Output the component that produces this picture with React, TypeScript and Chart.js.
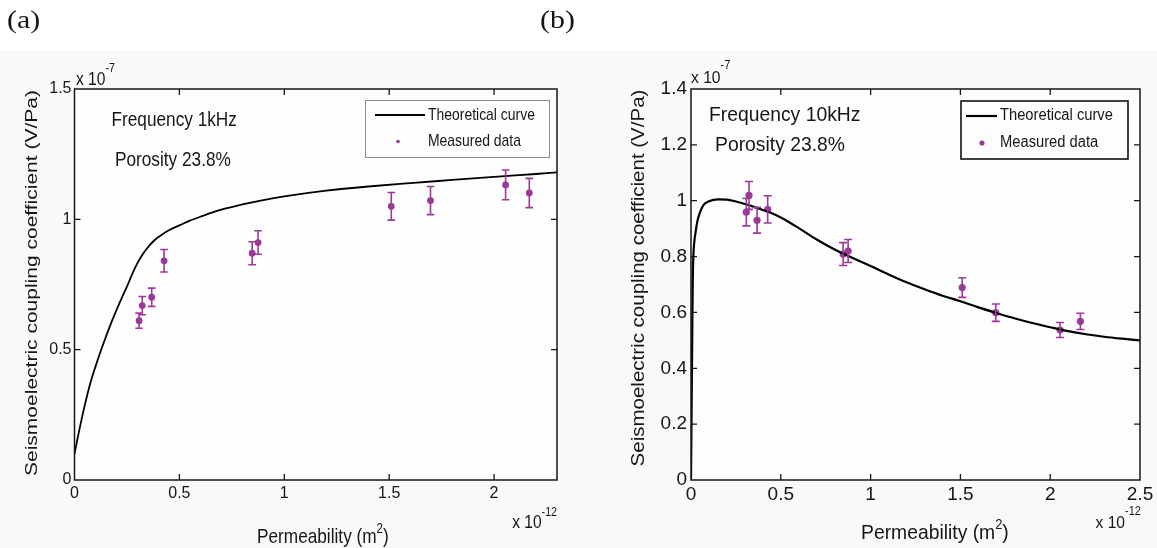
import React, { useEffect, useRef } from "react";
import { Chart, registerables } from "chart.js";

Chart.register(...registerables);

// ---------------- data ----------------
const permeability = [0.308, 0.323, 0.368, 0.427, 0.847, 0.875, 1.51, 1.697, 2.055, 2.168];

const measured1kHz = [0.611, 0.669, 0.701, 0.841, 0.87, 0.911, 1.05, 1.072, 1.132, 1.101];
const error1kHz = [0.029, 0.035, 0.035, 0.043, 0.044, 0.045, 0.053, 0.054, 0.057, 0.056];

const measured10kHz = [0.959, 1.019, 0.93, 0.969, 0.809, 0.82, 0.689, 0.599, 0.537, 0.568];
const error10kHz = [0.049, 0.05, 0.046, 0.049, 0.041, 0.041, 0.035, 0.031, 0.027, 0.029];

const theoryPerm1kHz = [0, 0.025, 0.05, 0.075, 0.1, 0.125, 0.15, 0.175, 0.2, 0.225, 0.25, 0.275, 0.3, 0.325, 0.35, 0.375, 0.4, 0.425, 0.45, 0.475, 0.5, 0.55, 0.6, 0.7, 0.8, 0.9, 1.0, 1.2, 1.4, 1.6, 1.8, 2.0, 2.2, 2.3];
const theory1kHz = [0.1, 0.2, 0.29, 0.37, 0.435, 0.495, 0.55, 0.603, 0.652, 0.698, 0.742, 0.79, 0.832, 0.866, 0.893, 0.915, 0.932, 0.946, 0.958, 0.968, 0.977, 0.995, 1.01, 1.037, 1.057, 1.074, 1.088, 1.11, 1.126, 1.139, 1.151, 1.163, 1.174, 1.18];

const theoryPerm10kHz = [0, 0.002, 0.004, 0.006, 0.008, 0.01, 0.013, 0.018, 0.025, 0.035, 0.05, 0.07, 0.1, 0.15, 0.2, 0.25, 0.3, 0.35, 0.4, 0.45, 0.5, 0.6, 0.7, 0.8, 0.9, 1.0, 1.1, 1.2, 1.3, 1.4, 1.5, 1.6, 1.7, 1.8, 1.9, 2.0, 2.1, 2.2, 2.3, 2.4, 2.5];
const theory10kHz = [0, 0.15, 0.3, 0.45, 0.6, 0.72, 0.8, 0.85, 0.885, 0.925, 0.958, 0.985, 0.998, 1.005, 1.004, 0.997, 0.988, 0.978, 0.967, 0.955, 0.94, 0.902, 0.861, 0.825, 0.795, 0.766, 0.736, 0.708, 0.683, 0.66, 0.64, 0.618, 0.598, 0.579, 0.562, 0.547, 0.533, 0.522, 0.513, 0.506, 0.5];

const xTicks1kHz = [0, 0.5, 1, 1.5, 2];
const yTicks1kHz = [0, 0.5, 1, 1.5];
const xTicks10kHz = [0, 0.5, 1, 1.5, 2, 2.5];
const yTicks10kHz = [0, 0.2, 0.4, 0.6, 0.8, 1, 1.2, 1.4];

const legendLabels = ["Theoretical curve", "Measured data"];
const yTitleText = "Seismoelectric coupling coefficient (V/Pa)";
const xTitleText = "Permeability (m";
const annotations1kHz = ["Frequency 1kHz", "Porosity 23.8%"];
const annotations10kHz = ["Frequency 10kHz", "Porosity 23.8%"];
const panelLabels = ["(a)", "(b)"];

// ---------------- styling ----------------
const FONT = '"Liberation Sans", Arial, Helvetica, sans-serif';
const SERIF = '"Liberation Serif", "Times New Roman", serif';
const PURPLE = "#9a3a98";
const INK = "#161616";
const BG = "#f9f9f9";

type Part = { t: string; size: number; dy?: number; family?: string };

function drawParts(
  ctx: CanvasRenderingContext2D,
  parts: Part[],
  x: number,
  y: number,
  align: "left" | "right" | "center",
  sx: number,
  baseline: CanvasTextBaseline = "middle"
) {
  const widths = parts.map((p) => {
    ctx.font = `${p.size}px ${p.family || FONT}`;
    return ctx.measureText(p.t).width * sx;
  });
  const total = widths.reduce((a, b) => a + b, 0);
  let cx = align === "left" ? x : align === "right" ? x - total : x - total / 2;
  parts.forEach((p, i) => {
    ctx.save();
    ctx.translate(cx, y + (p.dy || 0));
    ctx.scale(sx, 1);
    ctx.font = `${p.size}px ${p.family || FONT}`;
    ctx.fillStyle = INK;
    ctx.textAlign = "left";
    ctx.textBaseline = baseline;
    ctx.fillText(p.t, 0, 0);
    ctx.restore();
    cx += widths[i];
  });
}

function drawVertical(ctx: CanvasRenderingContext2D, text: string, cx: number, cy: number, size: number, sy: number) {
  ctx.save();
  ctx.translate(cx, cy);
  ctx.rotate(-Math.PI / 2);
  ctx.scale(1, sy);
  ctx.font = `${size}px ${FONT}`;
  ctx.fillStyle = INK;
  ctx.textAlign = "center";
  ctx.textBaseline = "middle";
  ctx.fillText(text, 0, 0);
  ctx.restore();
}

type Spec = {
  W: number; H: number; left: number; right: number; top: number; bottom: number;
  xMax: number; yMax: number; xTicks: number[]; yTicks: number[];
  theoryX: number[]; theoryY: number[]; coef: number[]; err: number[];
  tickSize: number; xTickPad: number; yTickPad: number; sx: number;
  annSize: number; annotations: string[]; annPos: [number, number][];
  xTitle: { x: number; y: number; size: number; sup: number };
  yTitle: { x: number; y: number; size: number };
  expTop: { x: number; y: number; size: number; sup: number };
  expBottom: { x: number; y: number; size: number; sup: number };
  legend: { x: number; y: number; w: number; h: number; stroke: string; lw: number; l1: number; l2: number; r1: number; r2: number; tx: number; dotX: number; dotR: number; size: number };
  curveWidth: number; markerR: number; capHalf: number; errWidth: number;
  panelLabels?: { t: string; x: number; y: number }[];
};

const specA: Spec = {
  W: 580, H: 548, left: 74.5, right: 557, top: 89, bottom: 480,
  xMax: 2.3, yMax: 1.5, xTicks: xTicks1kHz, yTicks: yTicks1kHz,
  theoryX: theoryPerm1kHz, theoryY: theory1kHz, coef: measured1kHz, err: error1kHz,
  tickSize: 16, xTickPad: 4, yTickPad: 3, sx: 0.82,
  annSize: 21, annotations: annotations1kHz, annPos: [[111.5, 120], [115, 160]],
  xTitle: { x: 257, y: 537, size: 21, sup: 14 },
  yTitle: { x: 32, y: 283, size: 21 },
  expTop: { x: 76, y: 80, size: 19, sup: 13 },
  expBottom: { x: 557, y: 523, size: 19, sup: 13 },
  legend: { x: 365.5, y: 100.5, w: 184, h: 57, stroke: "#8a8a8a", lw: 1, l1: 375, l2: 425, r1: 115, r2: 141.5, tx: 428, dotX: 398, dotR: 1.8, size: 17 },
  curveWidth: 1.8, markerR: 3.4, capHalf: 3.8, errWidth: 1.6,
  panelLabels: [
    { t: panelLabels[0], x: 7, y: 27.5 },
    { t: panelLabels[1], x: 540, y: 27.5 },
  ],
};

const specB: Spec = {
  W: 577, H: 548, left: 111, right: 560, top: 89, bottom: 480,
  xMax: 2.5, yMax: 1.4, xTicks: xTicks10kHz, yTicks: yTicks10kHz,
  theoryX: theoryPerm10kHz, theoryY: theory10kHz, coef: measured10kHz, err: error10kHz,
  tickSize: 19, xTickPad: 3, yTickPad: 4, sx: 0.92,
  annSize: 21, annotations: annotations10kHz, annPos: [[129, 115], [135, 145]],
  xTitle: { x: 281, y: 533, size: 21, sup: 14 },
  yTitle: { x: 59, y: 278, size: 20.5 },
  expTop: { x: 111, y: 78, size: 17, sup: 12 },
  expBottom: { x: 561, y: 523, size: 17, sup: 12 },
  legend: { x: 381, y: 101, w: 167, h: 58, stroke: "#111", lw: 1.6, l1: 386, l2: 417, r1: 116, r2: 143, tx: 420, dotX: 402, dotR: 2.6, size: 16 },
  curveWidth: 2.2, markerR: 3.6, capHalf: 4, errWidth: 1.6,
};

function makeChart(canvas: HTMLCanvasElement, s: Spec) {
  const decor = {
    id: "decor",
    beforeDraw(chart: any) {
      const { ctx, width, height, chartArea: a } = chart;
      ctx.save();
      ctx.fillStyle = "#ffffff";
      ctx.fillRect(0, 0, width, height);
      ctx.fillStyle = BG;
      ctx.fillRect(0, 50, width, height - 50);
      ctx.fillStyle = "#fdfdfd";
      ctx.fillRect(a.left, a.top, a.right - a.left, a.bottom - a.top);
      ctx.restore();
    },
    afterDatasetsDraw(chart: any) {
      const { ctx, chartArea: a } = chart;
      const xs = chart.scales.x;
      const ys = chart.scales.y;
      ctx.save();
      ctx.beginPath();
      ctx.rect(a.left, a.top, a.right - a.left, a.bottom - a.top);
      ctx.clip();
      ctx.strokeStyle = PURPLE;
      ctx.lineWidth = s.errWidth;
      permeability.forEach((p, i) => {
        const x = xs.getPixelForValue(p);
        const y1 = ys.getPixelForValue(s.coef[i] + s.err[i]);
        const y2 = ys.getPixelForValue(s.coef[i] - s.err[i]);
        ctx.beginPath();
        ctx.moveTo(x, y1);
        ctx.lineTo(x, y2);
        ctx.moveTo(x - s.capHalf, y1);
        ctx.lineTo(x + s.capHalf, y1);
        ctx.moveTo(x - s.capHalf, y2);
        ctx.lineTo(x + s.capHalf, y2);
        ctx.stroke();
      });
      ctx.restore();
    },
    afterDraw(chart: any) {
      const { ctx, chartArea: a } = chart;
      const xs = chart.scales.x;
      const ys = chart.scales.y;
      ctx.save();
      // frame + inward ticks
      ctx.strokeStyle = INK;
      ctx.lineWidth = 1.5;
      ctx.strokeRect(a.left, a.top, a.right - a.left, a.bottom - a.top);
      ctx.lineWidth = 1.3;
      const tl = 6;
      ctx.beginPath();
      s.xTicks.forEach((v) => {
        const px = xs.getPixelForValue(v);
        if (px <= a.left + 1 || px >= a.right - 1) return;
        ctx.moveTo(px, a.bottom);
        ctx.lineTo(px, a.bottom - tl);
        ctx.moveTo(px, a.top);
        ctx.lineTo(px, a.top + tl);
      });
      s.yTicks.forEach((v) => {
        const py = ys.getPixelForValue(v);
        if (py <= a.top + 1 || py >= a.bottom - 1) return;
        ctx.moveTo(a.left, py);
        ctx.lineTo(a.left + tl, py);
        ctx.moveTo(a.right, py);
        ctx.lineTo(a.right - tl, py);
      });
      ctx.stroke();

      // legend
      const L = s.legend;
      ctx.fillStyle = "#fdfdfd";
      ctx.fillRect(L.x, L.y, L.w, L.h);
      ctx.strokeStyle = L.stroke;
      ctx.lineWidth = L.lw;
      ctx.strokeRect(L.x, L.y, L.w, L.h);
      ctx.strokeStyle = "#000";
      ctx.lineWidth = s.curveWidth;
      ctx.beginPath();
      ctx.moveTo(L.l1, L.r1);
      ctx.lineTo(L.l2, L.r1);
      ctx.stroke();
      ctx.fillStyle = PURPLE;
      ctx.beginPath();
      ctx.arc(L.dotX, L.r2, L.dotR, 0, Math.PI * 2);
      ctx.fill();
      drawParts(ctx, [{ t: legendLabels[0], size: L.size }], L.tx, L.r1, "left", s.sx);
      drawParts(ctx, [{ t: legendLabels[1], size: L.size }], L.tx, L.r2, "left", s.sx);

      // annotations
      s.annotations.forEach((t, i) => {
        drawParts(ctx, [{ t, size: s.annSize }], s.annPos[i][0], s.annPos[i][1], "left", s.sx);
      });

      // axis titles
      drawParts(
        ctx,
        [
          { t: xTitleText, size: s.xTitle.size },
          { t: "2", size: s.xTitle.sup, dy: -8 },
          { t: ")", size: s.xTitle.size },
        ],
        s.xTitle.x, s.xTitle.y, "left", s.sx
      );
      drawVertical(ctx, yTitleText, s.yTitle.x, s.yTitle.y, s.yTitle.size, s.sx);

      // exponent labels
      drawParts(
        ctx,
        [
          { t: "x 10", size: s.expTop.size },
          { t: "-7", size: s.expTop.sup, dy: -12 },
        ],
        s.expTop.x, s.expTop.y, "left", s.sx
      );
      drawParts(
        ctx,
        [
          { t: "x 10", size: s.expBottom.size },
          { t: "-12", size: s.expBottom.sup, dy: -11 },
        ],
        s.expBottom.x, s.expBottom.y, "right", s.sx
      );

      // panel labels
      (s.panelLabels || []).forEach((p) => {
        drawParts(ctx, [{ t: p.t, size: 26, family: SERIF }], p.x, p.y, "left", 1.15, "alphabetic");
      });
      ctx.restore();
    },
  };

  return new Chart(canvas, {
    type: "scatter",
    data: {
      datasets: [
        {
          label: legendLabels[0],
          data: s.theoryX.map((x, i) => ({ x, y: s.theoryY[i] })),
          showLine: true,
          borderColor: "#000",
          borderWidth: s.curveWidth,
          pointRadius: 0,
          pointHoverRadius: 0,
          cubicInterpolationMode: "monotone",
          fill: false,
        } as any,
        {
          label: legendLabels[1],
          data: permeability.map((x, i) => ({ x, y: s.coef[i] })),
          showLine: false,
          pointRadius: s.markerR,
          pointHoverRadius: s.markerR,
          pointBackgroundColor: PURPLE,
          pointBorderWidth: 0,
          borderColor: PURPLE,
        } as any,
      ],
    },
    options: {
      responsive: false,
      animation: false,
      events: [],
      layout: { padding: { top: s.top, right: s.W - s.right, bottom: 0, left: 0 } },
      plugins: {
        legend: { display: false },
        tooltip: { enabled: false },
        title: { display: false },
      },
      scales: {
        x: {
          type: "linear",
          min: 0,
          max: s.xMax,
          grid: { display: false, drawTicks: false, tickLength: 0 },
          border: { display: false },
          ticks: {
            color: INK,
            font: { family: FONT, size: s.tickSize },
            padding: s.xTickPad,
            autoSkip: false,
            maxRotation: 0,
            callback: (v: any) => String(v),
          },
          afterBuildTicks: (scale: any) => {
            scale.ticks = s.xTicks.map((v) => ({ value: v }));
          },
          afterFit: (scale: any) => {
            scale.height = s.H - s.bottom;
          },
        },
        y: {
          type: "linear",
          min: 0,
          max: s.yMax,
          grid: { display: false, drawTicks: false, tickLength: 0 },
          border: { display: false },
          ticks: {
            color: INK,
            font: { family: FONT, size: s.tickSize },
            padding: s.yTickPad,
            autoSkip: false,
            callback: (v: any) => String(v),
          },
          afterBuildTicks: (scale: any) => {
            scale.ticks = s.yTicks.map((v) => ({ value: v }));
          },
          afterFit: (scale: any) => {
            scale.width = s.left;
          },
        },
      },
    } as any,
    plugins: [decor],
  });
}

function Panel({ spec, x }: { spec: Spec; x: number }) {
  const ref = useRef<HTMLCanvasElement>(null);
  useEffect(() => {
    if (!ref.current) return;
    const chart = makeChart(ref.current, spec);
    return () => chart.destroy();
  }, [spec]);
  return (
    <canvas
      ref={ref}
      width={spec.W}
      height={spec.H}
      style={{ position: "absolute", left: x, top: 0, width: spec.W, height: spec.H, display: "block" }}
    />
  );
}

export default function App() {
  return (
    <div style={{ position: "absolute", left: 0, top: 0, width: 1157, height: 548, overflow: "hidden", background: "#fff" }}>
      <Panel spec={specA} x={0} />
      <Panel spec={specB} x={580} />
    </div>
  );
}
